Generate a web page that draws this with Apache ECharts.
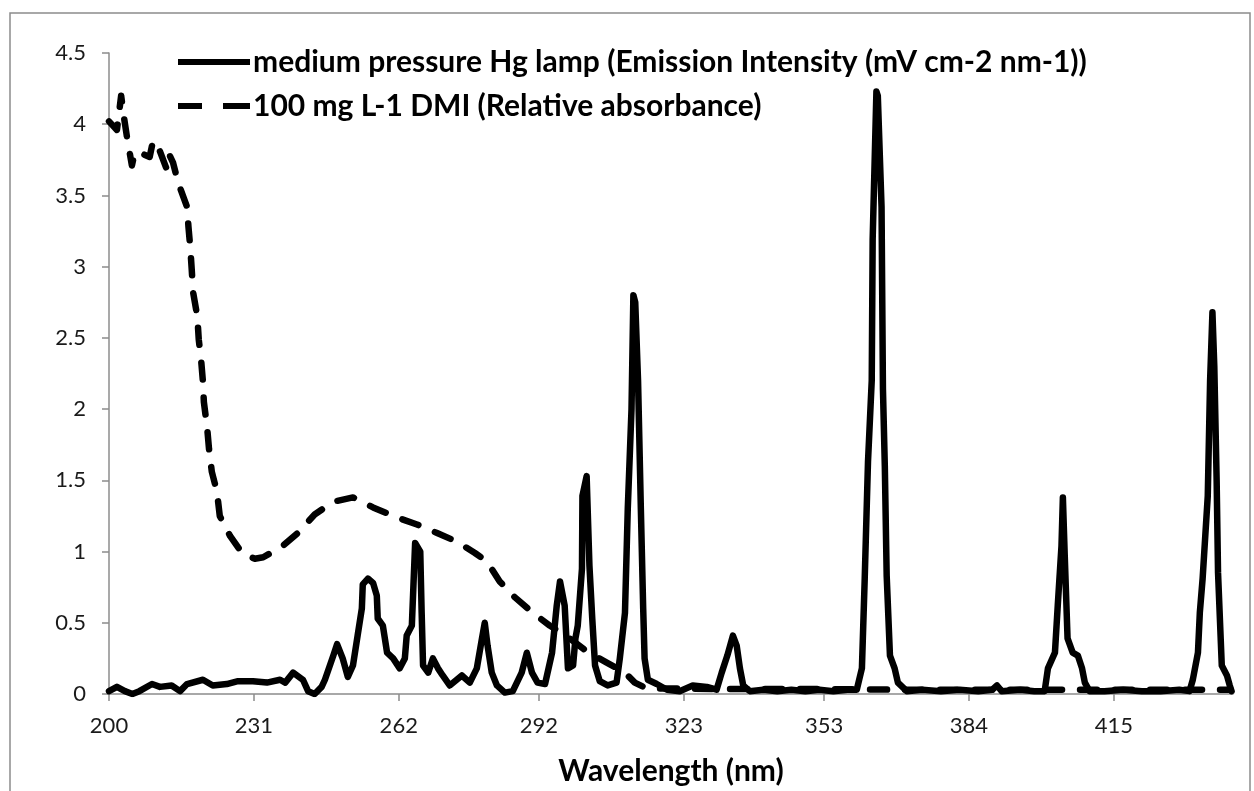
<!DOCTYPE html>
<html>
<head>
<meta charset="utf-8">
<script src="https://cdn.jsdelivr.net/npm/echarts@6/dist/echarts.min.js"></script>
<style>
html,body{margin:0;padding:0;background:#fff;}
#chart{width:1254px;height:791px;}
</style>
</head>
<body>
<div id="chart"></div>
<script>
// ---- data ----
const seriesNames = [
  'medium pressure Hg lamp (Emission Intensity (mV cm-2 nm-1))',
  '100 mg L-1 DMI (Relative absorbance)'
];
const xTickLabels = [200, 231, 262, 292, 323, 353, 384, 415];
const yTickLabels = [0, 0.5, 1, 1.5, 2, 2.5, 3, 3.5, 4, 4.5];

const hgWavelength = [
  200.0,201.7,203.4,205.0,206.5,209.2,210.9,213.4,215.2,216.7,220.1,222.2,225.2,227.6,230.8,233.8,236.6,237.7,239.4,241.5,
  242.6,244.0,245.5,246.2,248.0,248.8,250.0,251.1,252.2,253.2,254.1,254.3,255.4,256.5,257.3,257.5,258.6,259.5,260.8,262.2,
  263.3,263.7,264.8,265.5,266.6,266.9,267.2,268.3,269.3,270.4,271.4,272.9,274.4,275.5,277.2,278.7,279.8,280.4,281.0,281.9,
  283.0,284.7,286.4,288.3,289.4,290.5,291.7,293.3,294.8,295.8,296.5,297.5,298.2,299.3,299.8,300.3,301.2,301.3,302.2,302.8,
  303.4,304.0,305.0,306.7,308.6,309.3,310.4,311.0,311.8,312.2,312.6,313.2,313.8,314.3,314.6,315.3,317.2,319.4,322.1,324.9,
  327.9,330.0,331.1,332.3,333.5,334.3,335.0,335.7,337.1,340.0,343.0,346.0,349.0,352.0,355.0,358.0,360.0,361.1,361.7,362.4,
  363.2,363.4,364.2,364.5,365.3,365.6,366.0,366.4,367.1,368.1,368.8,370.7,374.0,378.0,382.0,386.0,389.0,390.0,391.0,395.0,
  398.0,400.2,400.9,402.4,403.0,403.8,404.1,404.5,405.1,406.2,407.3,408.2,408.8,409.8,413.0,417.0,421.0,425.0,429.0,431.2,
  431.9,433.0,433.4,434.0,435.1,435.6,436.1,436.5,437.0,437.3,438.1,439.2,439.8,440.2
];
const hgIntensity = [
  0.02,0.05,0.02,0.00,0.02,0.07,0.05,0.06,0.02,0.07,0.10,0.06,0.07,0.09,0.09,0.08,0.10,0.08,0.15,0.10,
  0.02,0.00,0.05,0.10,0.27,0.35,0.25,0.12,0.20,0.41,0.60,0.77,0.81,0.78,0.69,0.53,0.48,0.29,0.25,0.18,
  0.25,0.41,0.48,1.06,1.00,0.57,0.20,0.15,0.25,0.18,0.13,0.06,0.10,0.13,0.08,0.18,0.39,0.50,0.34,0.15,
  0.06,0.01,0.02,0.15,0.29,0.15,0.08,0.07,0.29,0.62,0.79,0.62,0.18,0.20,0.39,0.48,0.88,1.39,1.53,0.90,
  0.53,0.20,0.09,0.06,0.08,0.25,0.57,1.30,2.00,2.80,2.75,2.20,1.30,0.60,0.25,0.10,0.07,0.03,0.02,0.06,
  0.05,0.03,0.15,0.27,0.41,0.34,0.18,0.06,0.02,0.03,0.02,0.03,0.02,0.03,0.02,0.03,0.03,0.18,0.81,1.63,
  2.20,3.19,4.23,4.20,3.42,2.14,1.60,0.83,0.27,0.18,0.08,0.02,0.03,0.02,0.03,0.02,0.03,0.06,0.02,0.03,
  0.02,0.02,0.18,0.29,0.62,1.04,1.38,0.97,0.39,0.29,0.27,0.18,0.08,0.02,0.02,0.03,0.02,0.02,0.03,0.02,
  0.10,0.29,0.57,0.81,1.39,2.20,2.68,2.30,1.50,0.85,0.20,0.13,0.06,0.02
];

const dmiWavelength = [
  200.0,201.7,202.6,203.2,203.8,204.9,205.5,206.6,208.7,209.4,210.2,212.4,213.0,213.7,214.8,216.7,217.0,217.4,217.7,218.0,
  218.9,219.2,219.7,220.1,220.3,221.0,221.4,222.0,223.1,223.7,225.9,228.7,231.2,233.0,237.2,240.4,244.0,248.0,252.2,256.5,
  261.6,265.9,270.2,274.4,278.3,280.9,283.6,286.8,290.7,294.3,298.6,302.2,306.5,310.4,312.5,315.0,330.0,350.0,370.0,390.0,
  410.0,430.0,440.0
];
const dmiAbsorbance = [
  4.02,3.96,4.20,4.05,3.92,3.71,3.80,3.80,3.77,3.88,3.87,3.68,3.78,3.73,3.59,3.42,3.28,3.13,2.98,2.82,
  2.65,2.49,2.35,2.19,2.05,1.87,1.72,1.56,1.42,1.25,1.11,0.98,0.95,0.96,1.04,1.13,1.26,1.35,1.38,1.31,
  1.24,1.19,1.13,1.07,0.99,0.93,0.79,0.68,0.57,0.48,0.39,0.30,0.22,0.15,0.08,0.04,0.035,0.035,0.03,0.03,
  0.03,0.03,0.03
];

// ---- build chart ----
const hgData = hgWavelength.map((w, i) => [w, hgIntensity[i]]);
const dmiData = dmiWavelength.map((w, i) => [w, dmiAbsorbance[i]]);

const chart = echarts.init(document.getElementById('chart'), null, {renderer: 'canvas'});
const FONT = 'Lato, "Open Sans", sans-serif';

chart.setOption({
  animation: false,
  backgroundColor: '#ffffff',
  graphic: [{
    type: 'rect',
    shape: {x: 10, y: 13, width: 1240, height: 800},
    style: {fill: 'none', stroke: '#8c8c8c', lineWidth: 1.5},
    silent: true,
    z: -1
  }],
  legend: {
    show: true,
    orient: 'vertical',
    left: 173,
    top: 40,
    itemWidth: 72,
    itemHeight: 6,
    itemGap: 10,
    symbolKeepAspect: false,
    textStyle: {
      fontFamily: FONT,
      fontWeight: 'bold',
      fontSize: 30,
      color: '#000',
      lineHeight: 34,
      padding: [0, 0, 0, -2]
    },
    data: [
      {name: seriesNames[0], icon: 'path://M0,0H72V6H0Z'},
      {name: seriesNames[1], icon: 'path://M0,0H24V6H0ZM45,0H72V6H45Z'}
    ]
  },
  grid: {left: 109, right: 21, top: 53, bottom: 96, containLabel: false},
  xAxis: {
    type: 'value',
    min: 200,
    max: 440.5,
    name: 'Wavelength (nm)',
    nameLocation: 'middle',
    nameGap: 62,
    nameTextStyle: {fontFamily: FONT, fontWeight: 'bold', fontSize: 30, color: '#000'},
    axisLine: {show: true, lineStyle: {color: '#8c8c8c', width: 1.5}},
    axisTick: {show: true, inside: false, length: 7, customValues: xTickLabels,
               lineStyle: {color: '#8c8c8c', width: 1.5}},
    axisLabel: {show: true, customValues: xTickLabels, margin: 21,
                fontFamily: FONT, fontSize: 22, color: '#1a1a1a',
                formatter: v => String(v)},
    splitLine: {show: false}
  },
  yAxis: {
    type: 'value',
    min: 0,
    max: 4.5,
    interval: 0.5,
    axisLine: {show: true, lineStyle: {color: '#8c8c8c', width: 1.5}},
    axisTick: {show: true, inside: false, length: 7, lineStyle: {color: '#8c8c8c', width: 1.5}},
    axisLabel: {show: true, margin: 23, fontFamily: FONT, fontSize: 22, color: '#1a1a1a',
                formatter: v => String(v)},
    splitLine: {show: false}
  },
  series: [
    {
      name: seriesNames[0],
      type: 'line',
      data: hgData,
      showSymbol: false,
      symbol: 'none',
      lineStyle: {color: '#000', width: 6.5, join: 'round', cap: 'round'},
      itemStyle: {color: '#000'},
      z: 3
    },
    {
      name: seriesNames[1],
      type: 'line',
      data: dmiData,
      showSymbol: false,
      symbol: 'none',
      lineStyle: {color: '#000', width: 6.5, type: [17, 18], cap: 'round', join: 'round'},
      itemStyle: {color: '#000'},
      z: 2
    }
  ]
});
</script>
</body>
</html>
